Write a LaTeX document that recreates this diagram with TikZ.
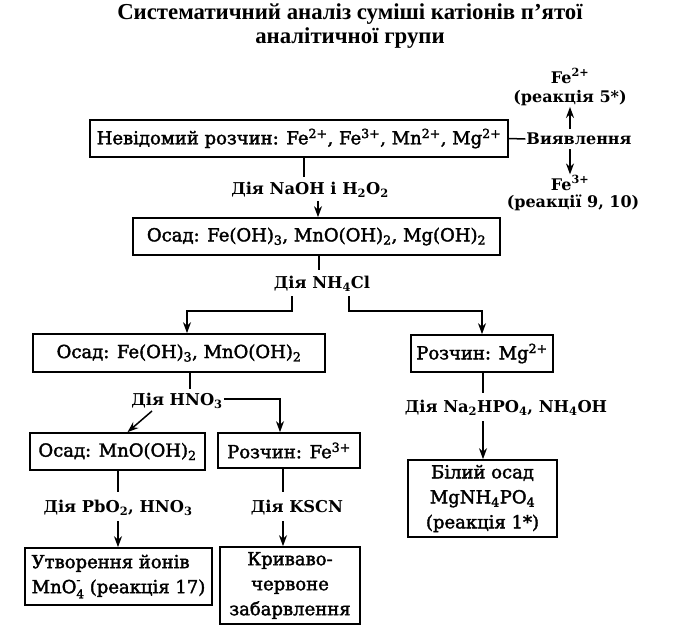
\documentclass[tikz,border=0pt]{standalone}
\usepackage{fontspec}
\setmainfont{DejaVu Serif}
\newfontfamily\boxfont{DejaVu Serif}[FakeBold=2]
\newfontfamily\titlefont{Liberation Serif}
\usetikzlibrary{arrows.meta}
\newcommand{\up}[1]{\textsuperscript{#1}}
\newcommand{\dn}[1]{\textsubscript{#1}}
\newcommand{\ionminus}{\makebox[0pt][l]{\raisebox{1.0ex}{\fontsize{12}{12}\selectfont -}}\raisebox{-0.55ex}{\fontsize{12}{12}\selectfont 4}}
\begin{document}
\begin{tikzpicture}[x=1pt,y=-1pt,
  box/.style={draw,line width=1.7pt,inner sep=0pt,align=center,font=\boxfont\fontsize{18}{25}\selectfont},
  lbl/.style={inner sep=1pt,align=center,font=\bfseries\fontsize{16.3}{20}\selectfont},
  side/.style={inner sep=1pt,align=center,font=\bfseries\fontsize{16}{20}\selectfont},
  ttl/.style={inner sep=0pt,font=\titlefont\bfseries\fontsize{22.8}{25}\selectfont},
  conn/.style={line width=1.5pt},
  arr/.style={conn,-{Stealth[length=11pt,width=8pt]}}]
\useasboundingbox (0,0) rectangle (682,641);
% title
\node[ttl] (t1) at (350,14) {Систематичний аналіз суміші катіонів п’ятої};
\node[ttl] (t2) at (350,38) {аналітичної групи};
% boxes
\node[box,minimum width=418,minimum height=37] (b1) at (299,138.5) {Невідомий розчин: Fe\up{2+}, Fe\up{3+}, Mn\up{2+}, Mg\up{2+}};
\node[box,minimum width=367,minimum height=37] (b2) at (316.5,236.5) {Осад: Fe(OH)\dn{3}, MnO(OH)\dn{2}, Mg(OH)\dn{2}};
\node[box,minimum width=292,minimum height=38] (b3) at (179,353) {Осад: Fe(OH)\dn{3}, MnO(OH)\dn{2}};
\node[box,minimum width=142,minimum height=37] (b4) at (482,353.5) {Розчин: Mg\up{2+}};
\node[box,minimum width=175,minimum height=37] (b5) at (117.5,451.5) {Осад: MnO(OH)\dn{2}};
\node[box,minimum width=142,minimum height=35] (b6) at (289,450.5) {Розчин: Fe\up{3+}};
\node[box,minimum width=187,minimum height=57,align=left] (b7) at (118.5,576.5) {Утворення йонів\\MnO\ionminus{} (реакція 17)};
\node[box,minimum width=140,minimum height=77] (b8) at (290,585.5) {Криваво-\\червоне\\забарвлення};
\node[box,minimum width=149,minimum height=77] (b9) at (482.5,498.5) {Білий осад\\MgNH\dn{4}PO\dn{4}\\(реакція 1*)};
% side annotations
\node[side] (vy) at (579,139) {Виявлення};
\node[side] (fe2) at (570,76) {Fe\up{2+}};
\node[side] (r5) at (570,98) {(реакція 5*)};
\node[side] (fe3) at (570,183) {Fe\up{3+}};
\node[side] (r9) at (573,203) {(реакції 9, 10)};
% labels
\node[lbl] (l1) at (310,190) {Дія NaOH і H\dn{2}O\dn{2}};
\node[lbl] (l2) at (322,284) {Дія NH\dn{4}Cl};
\node[lbl] (l3) at (177,401) {Дія HNO\dn{3}};
\node[lbl] (l4) at (118,508) {Дія PbO\dn{2}, HNO\dn{3}};
\node[lbl] (l5) at (297,508) {Дія KSCN};
\node[lbl] (l6) at (506,408) {Дія Na\dn{2}HPO\dn{4}, NH\dn{4}OH};
% coordinates
\coordinate (vyN) at (570,129);
\coordinate (vyS) at (570,149);
\coordinate (l1top) at (304,177);
\coordinate (l1bot) at (318,201);
\coordinate (l2top) at (319,270);
\coordinate (l2L) at (292,296);
\coordinate (j1) at (292,311);
\coordinate (l2R) at (349,296);
\coordinate (j2) at (349,311);
\coordinate (l3top) at (190,389);
\coordinate (d1) at (152,411);
\coordinate (l4top) at (118,492);
\coordinate (l4bot) at (118,521);
\coordinate (l5top) at (283,492);
\coordinate (l5bot) at (283,521);
\coordinate (l6top) at (483,393);
\coordinate (l6bot) at (483,421);
% connectors
\draw[conn] (b1.east) -- (vy.west);
\draw[arr] (vyN) -- (r5.south);
\draw[arr] (vyS) -- (fe3.north);
\draw[conn] (b1.south -| l1top) -- (l1top);
\draw[arr] (l1bot) -- (l1bot |- b2.north);
\draw[conn] (b2.south -| l2top) -- (l2top);
\draw[arr] (l2L) -- (j1) -| ([xshift=8pt]b3.north);
\draw[arr] (l2R) -- (j2) -| (b4.north);
\draw[conn] (b3.south -| l3top) -- (l3top);
\draw[arr] (d1) -- ([xshift=10pt]b5.north);
\draw[arr] ([yshift=2pt]l3.east) -| ([xshift=-9pt]b6.north);
\draw[conn] (b5.south -| l4top) -- (l4top);
\draw[arr] (l4bot) -- (l4bot |- b7.north);
\draw[conn] (b6.south -| l5top) -- (l5top);
\draw[arr] (l5bot) -- (l5bot |- b8.north);
\draw[conn] (b4.south -| l6top) -- (l6top);
\draw[arr] (l6bot) -- (l6bot |- b9.north);
\end{tikzpicture}
\end{document}
